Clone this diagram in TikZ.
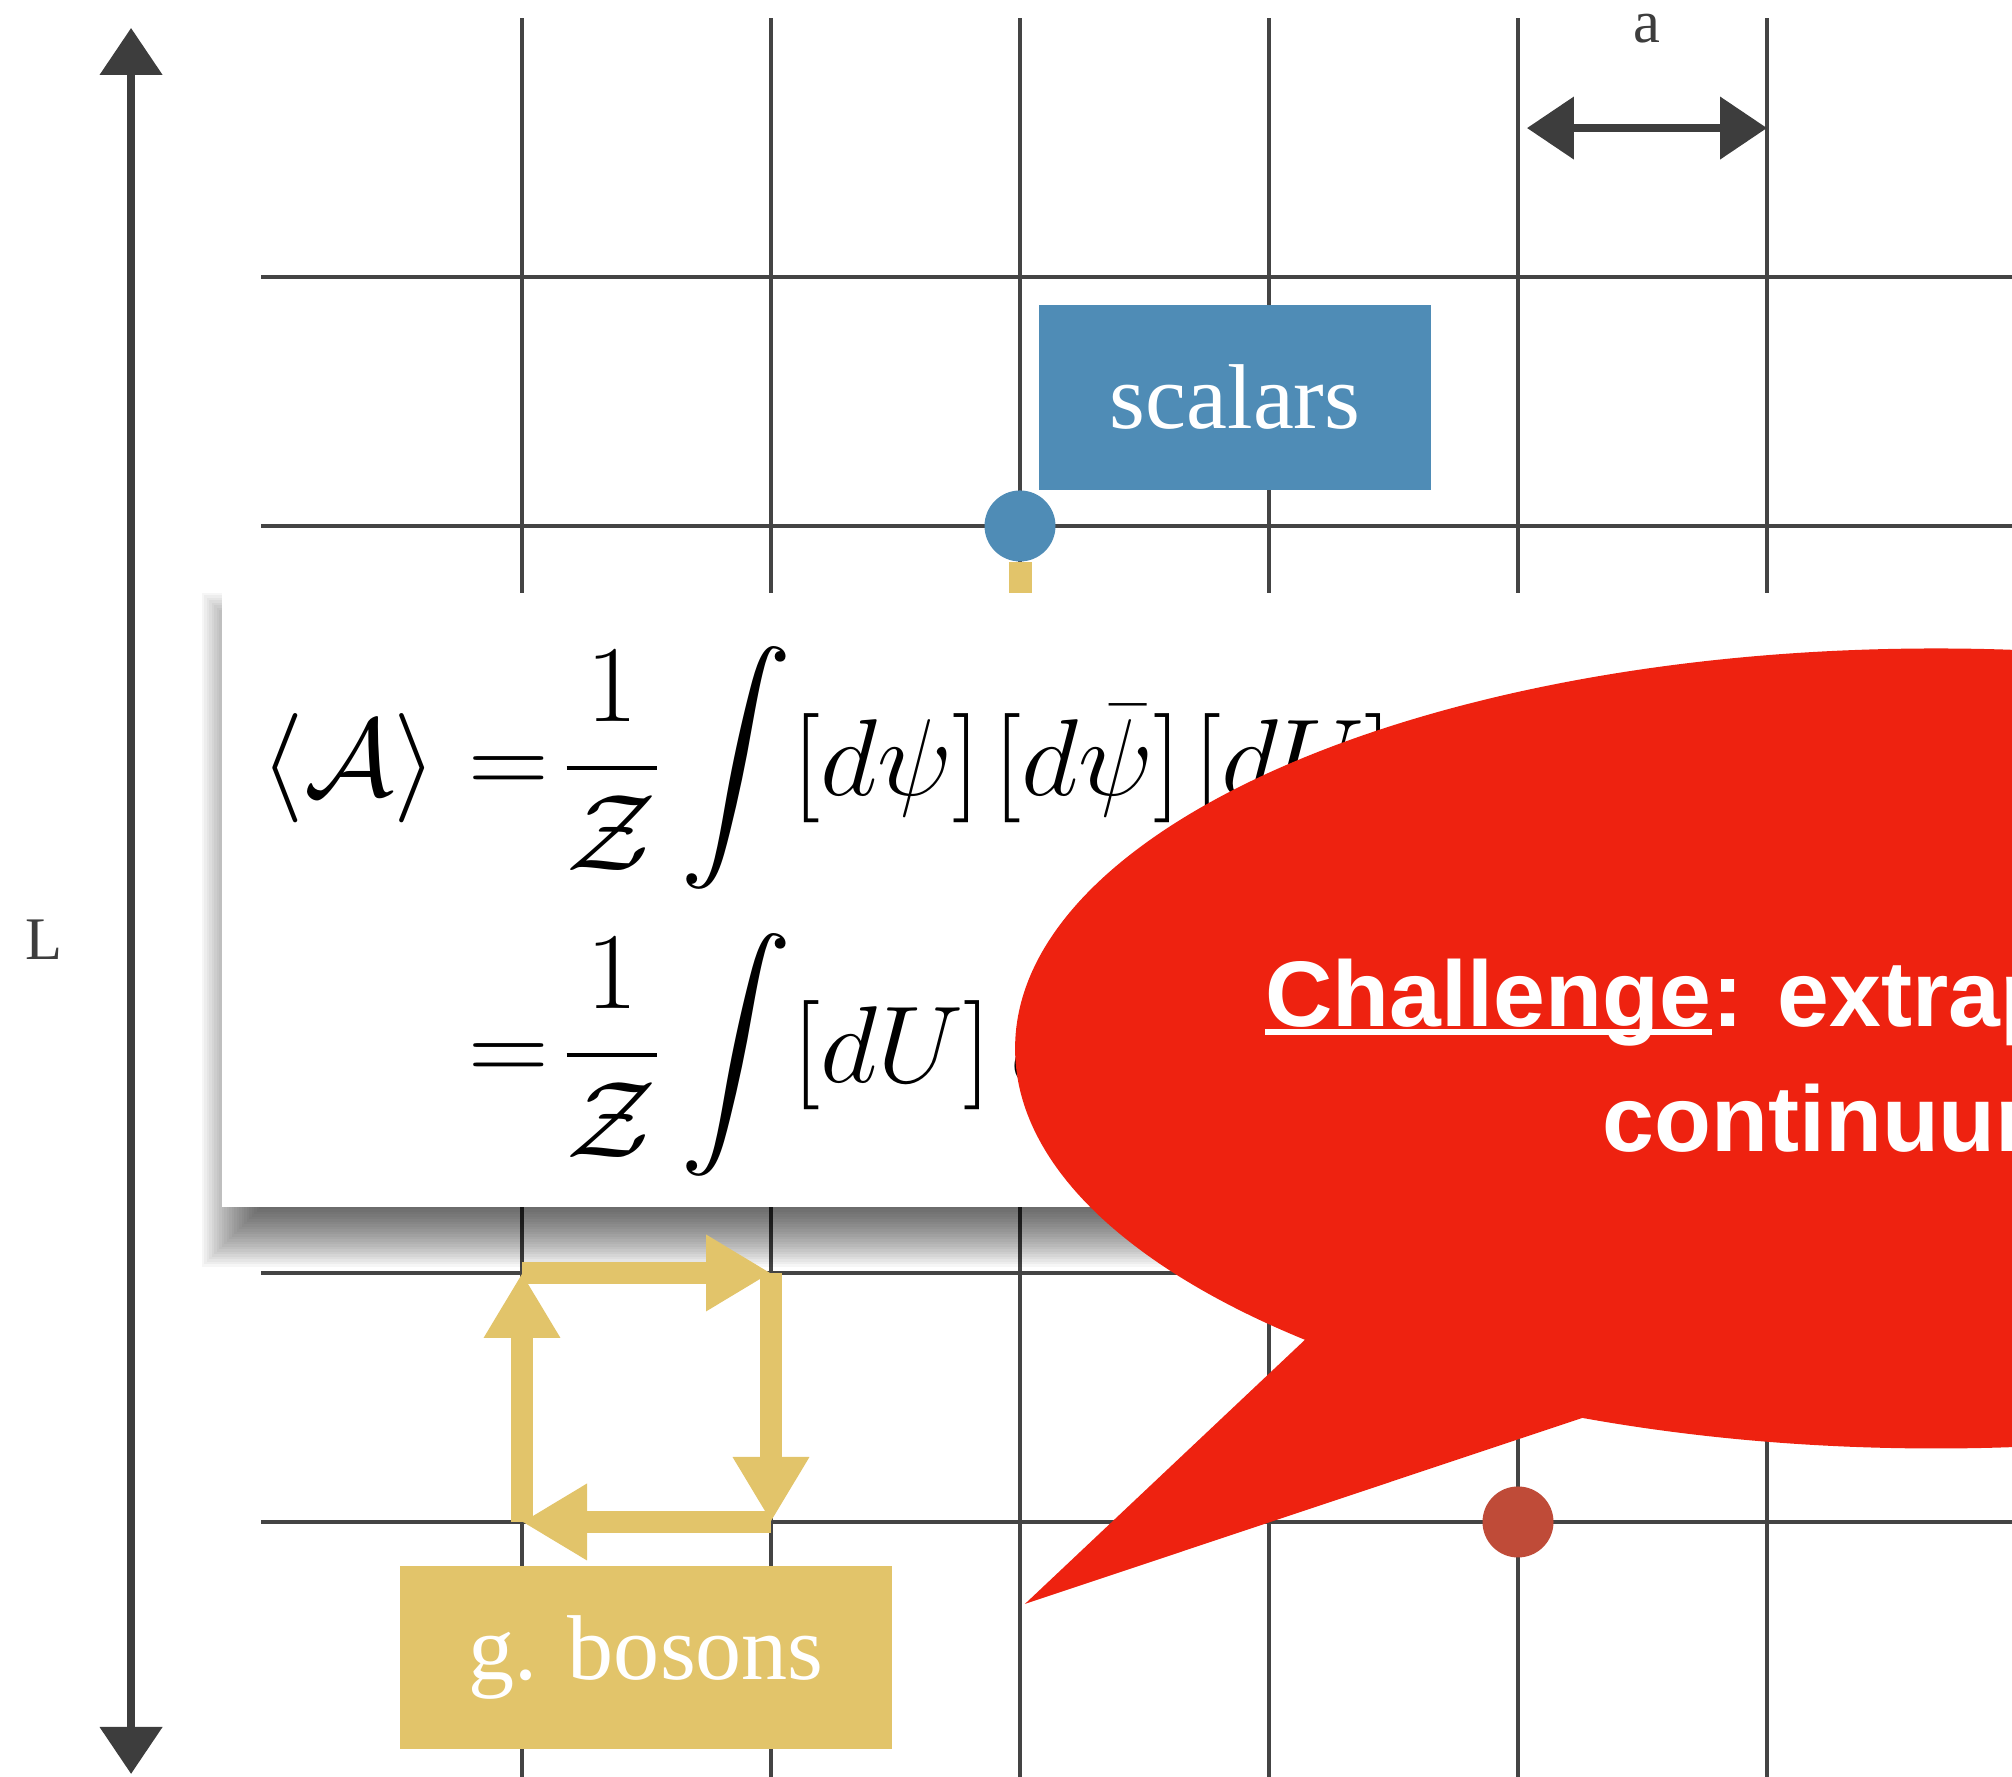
\documentclass[tikz,border=0pt]{standalone}
\usepackage{amsmath}
\usepackage{graphicx}
\usepackage{fontspec}
\usepackage{tikz}
\usetikzlibrary{arrows.meta, positioning, calc}
\newfontfamily\labelfont{Liberation Serif}
\newfontfamily\bubblefont{Liberation Sans}
\definecolor{gridgray}{HTML}{444444}
\definecolor{chalkgray}{HTML}{3D3D3D}
\definecolor{scalarblue}{HTML}{4F8CB6}
\definecolor{bosongold}{HTML}{E2C46A}
\definecolor{sitered}{HTML}{BF4B38}
\definecolor{bubblered}{HTML}{EE2210}
\newcommand{\formula}[1]{\scalebox{1.28}[1.25]{\fontsize{24.88}{30}\selectfont$\displaystyle #1$}}

\begin{document}
\begin{tikzpicture}[x=2.49cm, y=2.49cm, every node/.style={inner sep=0pt},
    chalk/.style={chalkgray, line width=0.8mm,
        {Triangle[length=4.7mm,width=6.1mm]}-{Triangle[length=4.7mm,width=6.1mm]}},
    boson/.style={bosongold, line width=2.2mm, -{Triangle[length=6.5mm,width=7.2mm]}},
    site/.style={circle, minimum size=7.1mm},
    tag/.style={text=white, font=\labelfont\fontsize{26.2}{30}\selectfont},
    dimlabel/.style={text=chalkgray, font=\labelfont\fontsize{17.2}{20}\selectfont},
    bubbletext/.style={text=white, font=\bubblefont\bfseries\fontsize{26.5}{30}\selectfont}]
    \useasboundingbox (-2.0964,-1.0241) rectangle (5.9839,6.1124);
    \clip (-2.0964,-1.0241) rectangle (5.9839,6.1124);
    % Grid
    \foreach \x in {0,...,5}
        \draw[gridgray, line width=0.4mm] (\x,-1.1) -- (\x,6.04);
    \foreach \y in {0,...,5}
        \draw[gridgray, line width=0.4mm] (-1.048,\y) -- (6.1,\y);
    % Size L and spacing a
    \coordinate (Ltop) at (-1.570,6.0);
    \coordinate (Lbot) at (-1.570,-1.012);
    \draw[chalk] (Lbot) -- (Ltop);
    \node[dimlabel, anchor=base] (Llab) at (-1.92,2.257) {L};
    \coordinate (a1) at (4.036,5.598);
    \coordinate (a2) at (5,5.598);
    \draw[chalk] (a1) -- (a2);
    \node[dimlabel, anchor=base] (alab) at (4.518,5.94) {a};
    % Scalar site
    \node[site, fill=scalarblue] (phi) at (2,4) {};
    \coordinate (lnk) at (2,3);
    \draw[bosongold, line width=2.3mm] (phi.south) -- (lnk);
    \node[tag, fill=scalarblue, minimum width=39.2mm, minimum height=18.5mm] (scal) at (2.864,4.516) {scalars};
    % Formula card with soft shadow
    \coordinate (fsw) at (-1.205,1.265);
    \coordinate (fne) at (6.3,3.731);
    \foreach \e in {-3.0,-2.75,...,3.0}
        \fill[black, opacity=0.035] ($(fsw)+(1mm,-3mm)+(-\e mm,-\e mm)$) rectangle ($(fne)+(1mm,-3mm)+(\e mm,\e mm)$);
    \fill[white] (fsw) rectangle (fne);
    \node[anchor=west] (eq) at (-1.052,2.452)
        {\formula{\begin{aligned}
            \langle\mathcal{A}\rangle &=\!\frac{1}{\mathcal{Z}}\int[d\psi]\mkern2mu[d\bar{\psi}]\mkern2mu[dU]\\[6pt]
            &=\!\frac{1}{\mathcal{Z}}\int[dU]\,d
        \end{aligned}}};
    % Plaquette
    \coordinate (p00) at (0,0);
    \coordinate (p10) at (1,0);
    \coordinate (p11) at (1,1);
    \coordinate (p01) at (0,1);
    \draw[boson] (p00) -- (p01);
    \draw[boson] (p01) -- (p11);
    \draw[boson] (p11) -- (p10);
    \draw[boson] (p10) -- (p00);
    \node[tag, fill=bosongold, minimum width=49.2mm, minimum height=18.3mm] (gb) at (0.498,-0.545) {g. bosons};
    % Fermion site
    \node[site, fill=sitered] (psi) at (4,0) {};
    % Speech bubble
    \fill[bubblered] (5.679,1.9016) ellipse [x radius=9.21cm, y radius=4.0cm];
    \fill[bubblered] (3.378,0.952) -- (2.020,-0.329) -- (4.510,0.502) -- cycle;
    \node[bubbletext, anchor=base west] (chal) at (2.984,1.988) {Challenge};
    \node[bubbletext, anchor=base west] (extr) at (chal.base east) {: extrapolate};
    \draw[white, line width=0.6mm] ([yshift=-0.5mm]chal.base west) -- ([yshift=-0.5mm]chal.base east);
    \node[bubbletext, anchor=base west] (cont) at (4.337,1.486) {continuum};
\end{tikzpicture}
\end{document}
